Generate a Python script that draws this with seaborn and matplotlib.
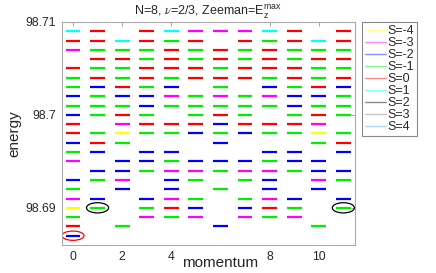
import numpy as np
import pandas as pd
import seaborn as sns
import matplotlib
matplotlib.use("Agg")
import matplotlib.pyplot as plt
from matplotlib.lines import Line2D
from matplotlib.patches import Ellipse

# energy rows (top to bottom)
energy_rows = [98.709, 98.708, 98.707, 98.706, 98.705, 98.704, 98.703, 98.702,
               98.701, 98.700, 98.699, 98.698, 98.697, 98.696, 98.695, 98.694,
               98.693, 98.692, 98.691, 98.690, 98.689, 98.688, 98.687]

# total spin S of the level at each energy row, None = no level there
spin_k0 = [1, 0, -3, None, 0, -1, -1, -2, -1, -2, 0, 0, -2, -1, -3, None, -2, -1, -3, -4, -1, 0, -2]
spin_k1 = [0, 0, -1, 0, -1, 0, -2, -1, -1, -1, None, -1, 0, -2, None, -2, -1, None, -2, -1, None, None, None]
spin_k2 = [None, 1, -1, 0, -1, -1, 0, -2, -1, 0, -3, -4, -1, None, -2, -2, -3, -2, None, None, None, -1, None]
spin_k3 = [0, 0, -1, -1, 0, 0, -1, -2, -2, -1, 0, -1, None, -2, -2, -1, None, None, -2, -1, -3, None, None]
spin_k4 = [1, -1, 0, 0, 0, -1, -2, -3, -1, None, 0, -1, None, -2, -1, -3, -2, -2, -3, 0, -1, None, None]
spin_k5 = [-3, 0, -1, -1, 0, 0, None, -1, -1, -1, 0, -2, None, None, -2, -3, -1, None, -1, -2, -3, None, None]
spin_k6 = [-3, None, 0, 0, -1, 0, -1, -3, -1, 0, -2, -1, -2, None, -2, -1, None, -1, None, None, None, -2, None]
spin_k7 = [-3, 0, -1, -1, 0, 0, None, -1, -1, -1, 0, -2, None, None, -2, -3, -1, None, -1, -2, -3, None, None]
spin_k8 = [1, -1, 0, 0, 0, -1, -2, -3, -1, None, 0, -1, None, -2, -1, -3, -2, -2, -3, 0, -1, None, None]
spin_k9 = [0, 0, -1, -1, 0, 0, -1, -2, -2, -1, 0, -1, None, -2, -2, -1, None, None, -2, -1, -3, None, None]
spin_k10 = [None, 1, -1, 0, -1, -1, 0, -2, -1, 0, -3, -4, -1, None, -2, -2, -3, -2, None, None, None, -1, None]
spin_k11 = [0, 0, -1, 0, -1, 0, -2, -1, -1, -1, None, -1, 0, -2, None, -2, -1, None, -2, -1, None, None, None]

spin_levels = [-4, -3, -2, -1, 0, 1, 2, 3, 4]
spin_colors = ["#ffff00", "#ff00ff", "#0000ff", "#00ee00", "#ff0000",
               "#00ffff", "#000000", "#808080", "#4da6f0"]

columns = [spin_k0, spin_k1, spin_k2, spin_k3, spin_k4, spin_k5,
           spin_k6, spin_k7, spin_k8, spin_k9, spin_k10, spin_k11]
rows = []
for k, col in enumerate(columns):
    for e, s in zip(energy_rows, col):
        if s is not None:
            rows.append((k, e, s))
df = pd.DataFrame(rows, columns=["momentum", "energy", "S"])

sns.set_style("white")
plt.rcParams["font.family"] = ["Liberation Sans", "DejaVu Sans"]
plt.rcParams["mathtext.fontset"] = "stix"

fig = plt.figure(figsize=(4.36, 2.73), dpi=100)
ax = fig.add_axes([0.142, 0.1026, 0.672, 0.817])

palette = dict(zip(spin_levels, spin_colors))
sns.scatterplot(data=df, x="momentum", y="energy", hue="S", palette=palette,
                marker="_", s=115, linewidth=1.6, legend=False, ax=ax)

# marked levels
ax.add_patch(Ellipse((0, 98.687), 0.9, 0.001, fill=False, ec="red", lw=0.9))
ax.add_patch(Ellipse((1, 98.690), 0.9, 0.0011, fill=False, ec="black", lw=0.9))
ax.add_patch(Ellipse((11, 98.690), 0.9, 0.0011, fill=False, ec="black", lw=0.9))

ax.set_xlim(-0.45, 11.47)
ax.set_ylim(98.686, 98.71)
ax.set_xticks([0, 2, 4, 8, 10])
ax.set_xticklabels(["0", "2", "4", "8", "10"])
ax.set_yticks([98.69, 98.70, 98.71])
ax.set_yticklabels(["98.69", "98.7", "98.71"])
ax.tick_params(direction="in", top=True, right=True, length=3, width=0.6,
               color="#999999", labelsize=8.7, pad=4)
for sp in ax.spines.values():
    sp.set_color("#aaaaaa")
    sp.set_linewidth(0.8)

ax.set_xlabel("momentum", fontsize=11)
ax.xaxis.set_label_coords(0.54, -0.05)
ax.set_ylabel("energy", fontsize=11, labelpad=3)
ax.set_title(r"N=8, $\nu$=2/3, Zeeman=E$_\mathregular{z}^\mathregular{max}$",
             fontsize=9, pad=5)

handles = [Line2D([], [], color=c, alpha=0.45, lw=1.0) for c in spin_colors]
labels = [f"S={s}" for s in spin_levels]
leg = fig.legend(handles, labels, loc="upper left", bbox_to_anchor=(0.830, 0.919),
                 fontsize=9, handlelength=1.7, handletextpad=0.1,
                 labelspacing=0.0, borderaxespad=0, borderpad=0.25,
                 fancybox=False, framealpha=1, edgecolor="#888888")
leg.get_frame().set_linewidth(0.8)

fig.savefig("out.png", dpi=100)
